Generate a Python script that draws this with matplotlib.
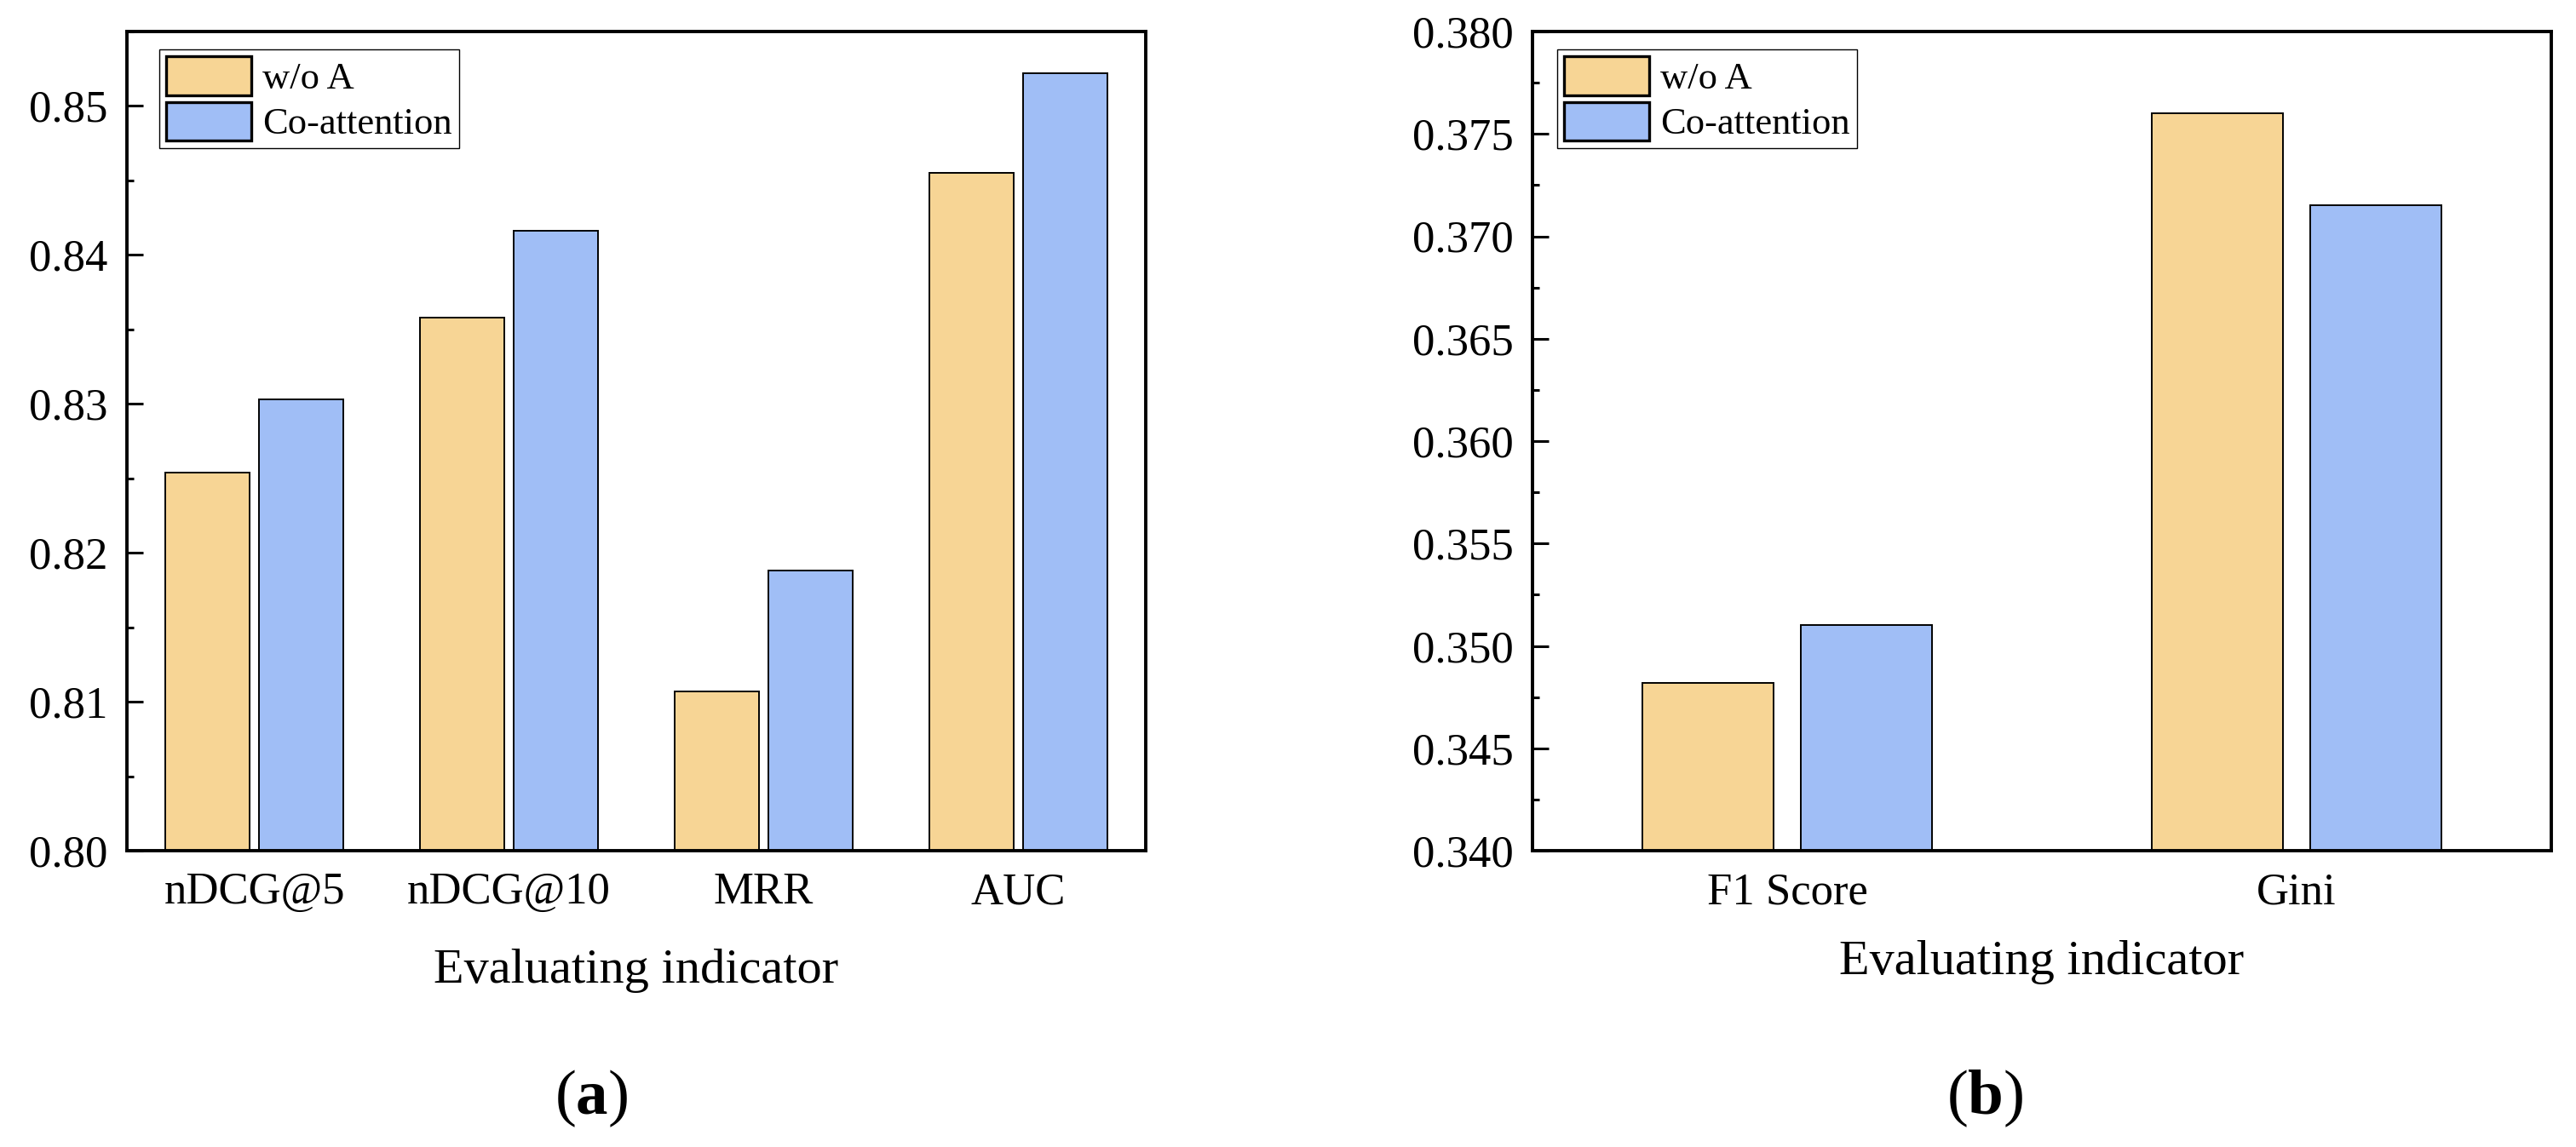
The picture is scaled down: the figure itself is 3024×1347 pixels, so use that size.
import matplotlib
matplotlib.use("Agg")
import matplotlib.pyplot as plt
import numpy as np
from matplotlib.ticker import MultipleLocator

plt.rcParams['font.family'] = ['Liberation Serif', 'DejaVu Serif']
plt.rcParams['mathtext.fontset'] = 'custom'
plt.rcParams['mathtext.rm'] = 'Liberation Serif'
plt.rcParams['mathtext.bf'] = 'Liberation Serif:bold'

# data
series = ['w/o A', 'Co-attention']
cats_a = ['nDCG@5', 'nDCG@10', 'MRR', 'AUC']
woa_a = [0.8254, 0.8358, 0.8107, 0.8455]
coatt_a = [0.8303, 0.8416, 0.8188, 0.8522]

cats_b = ['F1 Score', 'Gini']
woa_b = [0.3482, 0.3760]
coatt_b = [0.3510, 0.3715]

c_orange = '#F7D595'
c_blue = '#A0BEF6'

fig = plt.figure(figsize=(30.24, 13.47), dpi=100)
ax1 = fig.add_axes([149 / 3024, 1 - 999 / 1347, 1196 / 3024, 962 / 1347])
ax2 = fig.add_axes([1799 / 3024, 1 - 999 / 1347, 1196 / 3024, 962 / 1347])


def draw_panel(ax, cats, v1, v2, width, off, ylim, major, minor, fmt, leg_x, labelpad):
    x = np.arange(len(cats))
    ax.bar(x - off, v1, width, color=c_orange, edgecolor='black', linewidth=1.4, label=series[0])
    ax.bar(x + off, v2, width, color=c_blue, edgecolor='black', linewidth=1.4, label=series[1])
    ax.set_xlim(-0.5, len(cats) - 0.5)
    ax.set_ylim(*ylim)
    ax.set_xticks(x)
    ax.set_xticklabels(cats)
    ax.yaxis.set_major_locator(MultipleLocator(major))
    ax.yaxis.set_minor_locator(MultipleLocator(minor))
    ax.yaxis.set_major_formatter(plt.FormatStrFormatter(fmt))
    ax.tick_params(axis='y', which='major', direction='in', length=14, width=2.2,
                   labelsize=38, pad=16)
    ax.tick_params(axis='y', which='minor', direction='in', length=6, width=2.2)
    ax.tick_params(axis='x', which='both', length=0, labelsize=38, pad=18)
    for sp in ax.spines.values():
        sp.set_linewidth(2.8)
    ax.set_xlabel('Evaluating indicator', fontsize=42, labelpad=labelpad)
    leg = ax.legend(loc='upper left', bbox_to_anchor=(leg_x, 0.978), borderaxespad=0,
                    fontsize=32, fancybox=False, framealpha=1, edgecolor='black',
                    handlelength=2.25, handleheight=1.2, handletextpad=0.3,
                    labelspacing=0.15, borderpad=0.18)
    leg.get_frame().set_linewidth(1.0)
    for h in leg.legend_handles:
        h.set_linewidth(2.4)


draw_panel(ax1, cats_a, woa_a, coatt_a, 0.334, 0.184, (0.80, 0.855), 0.01, 0.005,
           '%.2f', 0.0318, 30)
draw_panel(ax2, cats_b, woa_b, coatt_b, 0.258, 0.155, (0.340, 0.380), 0.005, 0.0025,
           '%.3f', 0.0242, 23)

fig.text(694 / 3024, 1 - 1290 / 1347, r'($\mathbf{a}$)', fontsize=54, ha='center', va='center')
fig.text(2330 / 3024, 1 - 1290 / 1347, r'($\mathbf{b}$)', fontsize=54, ha='center', va='center')

fig.savefig('out.png', dpi=100)
